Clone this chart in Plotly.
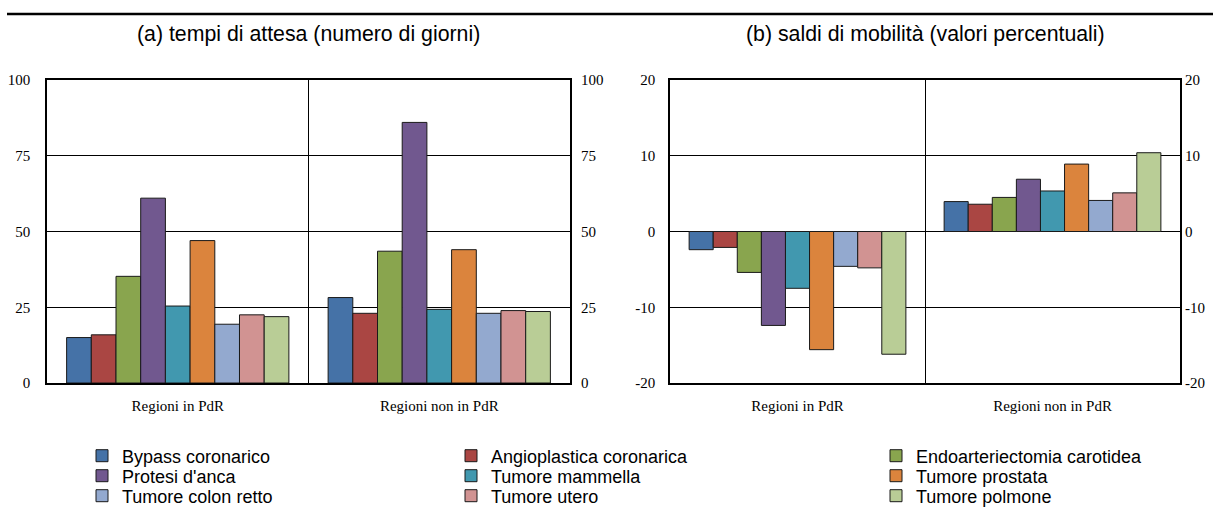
import plotly.graph_objects as go

categories = ["Regioni in PdR", "Regioni non in PdR"]
series_names = ["Bypass coronarico", "Angioplastica coronarica", "Endoarteriectomia carotidea",
                "Protesi d'anca", "Tumore mammella", "Tumore prostata",
                "Tumore colon retto", "Tumore utero", "Tumore polmone"]
colors = ["#4572A7", "#AA4643", "#89A54E", "#71588F", "#4198AF", "#DB843D",
          "#93A9CF", "#D19392", "#B9CD96"]

# (a) waiting times (days): [Regioni in PdR, Regioni non in PdR]
attesa_bypass = [15.0, 28.2]
attesa_angio = [15.9, 23.0]
attesa_endo = [35.2, 43.5]
attesa_protesi = [61.0, 86.0]
attesa_mammella = [25.4, 24.3]
attesa_prostata = [47.0, 44.0]
attesa_colon = [19.4, 23.0]
attesa_utero = [22.5, 23.9]
attesa_polmone = [21.9, 23.6]

# (b) mobility balance (percent)
saldo_bypass = [-2.4, 3.95]
saldo_angio = [-2.1, 3.6]
saldo_endo = [-5.4, 4.5]
saldo_protesi = [-12.4, 6.9]
saldo_mammella = [-7.5, 5.35]
saldo_prostata = [-15.6, 8.9]
saldo_colon = [-4.6, 4.1]
saldo_utero = [-4.8, 5.1]
saldo_polmone = [-16.2, 10.4]

attesa = [attesa_bypass, attesa_angio, attesa_endo, attesa_protesi, attesa_mammella,
          attesa_prostata, attesa_colon, attesa_utero, attesa_polmone]
saldo = [saldo_bypass, saldo_angio, saldo_endo, saldo_protesi, saldo_mammella,
         saldo_prostata, saldo_colon, saldo_utero, saldo_polmone]

left_ticks = [0, 25, 50, 75, 100]
left_tick_labels = ["0", "25", "50", "75", "100"]
right_ticks = [-20, -10, 0, 10, 20]
right_tick_labels = ["-20", "-10", "0", "10", "20"]

W = 1213.0
H = 510.0

fig = go.Figure()
legend_ids = ["legend"] + ["legend%d" % k for k in range(2, 10)]
for i, name in enumerate(series_names):
    lg = legend_ids[i]
    fig.add_trace(go.Bar(x=categories, y=attesa[i], name=name, marker_color=colors[i],
                         marker_line=dict(color="#1a1a1a", width=1), legend=lg,
                         legendgroup=name, xaxis="x", yaxis="y", showlegend=True))
    fig.add_trace(go.Bar(x=categories, y=saldo[i], name=name, marker_color=colors[i],
                         marker_line=dict(color="#1a1a1a", width=1), legend=lg,
                         legendgroup=name, xaxis="x2", yaxis="y2", showlegend=False))

# empty helper traces so the mirrored right-hand y axes get drawn
fig.add_trace(go.Scatter(x=[], y=[], xaxis="x", yaxis="y3", showlegend=False, hoverinfo="skip"))
fig.add_trace(go.Scatter(x=[], y=[], xaxis="x2", yaxis="y4", showlegend=False, hoverinfo="skip"))

ytop = 1 - 80 / H
ybot = 1 - 383 / H
tickfont = dict(family="Liberation Serif, Times New Roman, serif", size=15, color="black")

xcommon = dict(type="category", tickson="boundaries", showgrid=True, gridcolor="black",
               gridwidth=1, showline=True, linecolor="black", linewidth=1.5, mirror=True,
               ticks="", tickfont=tickfont, ticklabelstandoff=8, zeroline=False)
ycommon = dict(showgrid=True, gridcolor="black", gridwidth=1, showline=True, linecolor="black",
               linewidth=1.5, mirror=True, ticks="", tickfont=tickfont)
yright = dict(showgrid=False, showline=False, zeroline=False, ticks="", tickfont=tickfont)

fig.update_layout(
    width=1213, height=510,
    margin=dict(l=0, r=0, t=0, b=0, autoexpand=False),
    paper_bgcolor="white", plot_bgcolor="white",
    barmode="group", bargap=0.15, bargroupgap=0,
    font=dict(family="Liberation Sans, Arial, sans-serif", color="black"),
    xaxis=dict(domain=[47 / W, 570 / W], anchor="y", **xcommon),
    yaxis=dict(domain=[ybot, ytop], anchor="x", range=[0, 100], tickvals=left_ticks,
               ticktext=left_tick_labels, zeroline=False, ticklabelstandoff=12, **ycommon),
    yaxis3=dict(overlaying="y", side="right", anchor="x", range=[0, 100], tickvals=left_ticks,
                ticktext=left_tick_labels, ticklabelstandoff=10, **yright),
    xaxis2=dict(domain=[670 / W, 1180 / W], anchor="y2", **xcommon),
    yaxis2=dict(domain=[ybot, ytop], anchor="x2", range=[-20, 20], tickvals=right_ticks,
                ticktext=right_tick_labels, zeroline=True, zerolinecolor="black",
                zerolinewidth=1, ticklabelstandoff=10, **ycommon),
    yaxis4=dict(overlaying="y2", side="right", anchor="x2", range=[-20, 20], tickvals=right_ticks,
                ticktext=right_tick_labels, ticklabelstandoff=4, **yright),
    annotations=[
        dict(text="(a) tempi di attesa (numero di giorni)", x=308 / W, y=1 - 34 / H,
             xref="paper", yref="paper", xanchor="center", yanchor="middle",
             showarrow=False, font=dict(size=21.3)),
        dict(text="(b) saldi di mobilità (valori percentuali)", x=925 / W, y=1 - 34 / H,
             xref="paper", yref="paper", xanchor="center", yanchor="middle",
             showarrow=False, font=dict(size=21.3)),
    ],
    shapes=[dict(type="line", xref="paper", yref="paper", x0=7 / W, x1=1, y0=1 - 14 / H,
                 y1=1 - 14 / H, line=dict(color="black", width=2.5))],
)

legfont = dict(size=18, family="Liberation Sans, Arial, sans-serif", color="black")
text_x = [122, 491, 916]
row_y = [456, 476, 496]
for i, lid in enumerate(legend_ids):
    col = i % 3
    row = i // 3
    fig.update_layout({lid: dict(x=(text_x[col] - 40) / W, y=1 - row_y[row] / H,
                                 xanchor="left", yanchor="middle", orientation="v",
                                 font=legfont, bgcolor="rgba(0,0,0,0)",
                                 itemclick=False, itemdoubleclick=False)})

fig.write_html("out.html", config={"displayModeBar": False},
               post_script="document.body.style.margin='0';document.body.style.overflow='hidden';")
